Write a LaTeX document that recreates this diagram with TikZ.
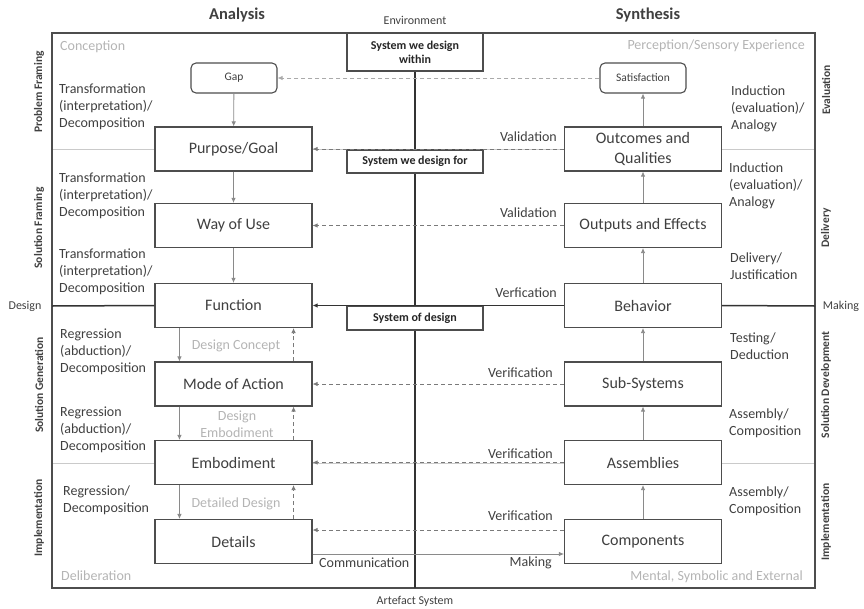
\documentclass[tikz,border=0pt]{standalone}
\usepackage{fontspec}
\setmainfont{Carlito}
\usetikzlibrary{arrows.meta,backgrounds}
\definecolor{ink}{HTML}{404040}
\definecolor{edgegray}{HTML}{4D4D4D}
\definecolor{faint}{HTML}{B4B4B4}
\definecolor{rulegray}{HTML}{CACACA}
\definecolor{dashgray}{HTML}{7A7A7A}
\definecolor{lightdash}{HTML}{AAAAAA}
\definecolor{flowgray}{HTML}{8A8A8A}

\tikzset{
  stage/.style={draw=edgegray, line width=1.1pt, minimum width=157pt, minimum height=44pt,
    inner sep=0pt, align=center, text=ink, fill=white, font=\fontsize{16}{20}\selectfont},
  endbox/.style={draw=edgegray, line width=1.1pt, rounded corners=5pt, minimum width=86pt,
    minimum height=30pt, inner sep=0pt, text=ink, fill=white, font=\fontsize{11.5}{14}\selectfont},
  sysbox/.style={draw=edgegray, line width=1.1pt, minimum width=136pt, inner sep=0pt,
    align=center, text=black!85, fill=white, font=\bfseries\fontsize{12}{14}\selectfont},
  proc/.style={align=left, text=ink, inner sep=0pt, font=\fontsize{14}{17}\selectfont},
  lbl/.style={text=ink, inner sep=0pt, font=\fontsize{14}{17}\selectfont},
  corner/.style={text=faint, inner sep=0pt, font=\fontsize{14}{17}\selectfont},
  midlbl/.style={text=faint, inner sep=0pt, align=center, font=\fontsize{14}{17}\selectfont},
  phase/.style={rotate=90, text=ink, inner sep=0pt, font=\bfseries\fontsize{11.5}{14}\selectfont},
  heading/.style={text=ink, inner sep=0pt, font=\bfseries\fontsize{16.5}{19}\selectfont},
  edgelbl/.style={text=ink, inner sep=0pt, font=\fontsize{12}{14}\selectfont},
  tip/.style={-{Latex[length=5pt,width=4.5pt]}},
  flow/.style={tip, draw=flowgray, line width=0.8pt},
  back/.style={tip, draw=dashgray, line width=0.8pt, dash pattern=on 4pt off 3pt},
  faintback/.style={-{Latex[length=5pt,width=4.5pt]}, draw=lightdash, line width=0.8pt, dash pattern=on 4pt off 3pt},
  mainline/.style={draw=black!80, line width=1.5pt},
}

\begin{document}
\begin{tikzpicture}[x=1pt, y=-1pt]
\useasboundingbox (0,0) rectangle (864,608);

% headings and outer labels
\node[heading] (analysis) at (237,15) {Analysis};
\node[heading] (synthesis) at (648,15) {Synthesis};
\node[edgelbl] (env) at (415,20) {Environment};
\node[edgelbl] (artefact) at (415,601) {Artefact System};
\node[edgelbl] (designlbl) at (25,306) {Design};
\node[edgelbl] (makinglbl) at (841,306) {Making};

% phases, left and right
\node[phase] (pf) at (39,92) {Problem Framing};
\node[phase] (sf) at (39,228) {Solution Framing};
\node[phase] (sg) at (39,385) {Solution Generation};
\node[phase] (impl) at (39,518) {Implementation};
\node[phase] (ev) at (826,90) {Evaluation};
\node[phase] (dl) at (826,228) {Delivery};
\node[phase] (sd) at (826,385) {Solution Development};
\node[phase] (impr) at (826,522) {Implementation};

% corner labels
\node[corner, anchor=west] (conc) at (60,47) {Conception};
\node[corner, anchor=east] (perc) at (805,46) {Perception/Sensory Experience};
\node[corner, anchor=west] (delib) at (61,576) {Deliberation};
\node[corner, anchor=east] (msx) at (803,577) {Mental, Symbolic and External};

% analysis column
\node[endbox] (gap) at (234,78) {Gap};
\node[stage] (purpose) at (233.5,149) {Purpose/Goal};
\node[stage] (way) at (233.5,225.5) {Way of Use};
\node[stage] (function) at (233.5,305.5) {Function};
\node[stage] (mode) at (233.5,384) {Mode of Action};
\node[stage] (embod) at (233.5,462.5) {Embodiment};
\node[stage] (details) at (233.5,541.5) {Details};

% synthesis column
\node[endbox] (satis) at (643,78) {Satisfaction};
\node[stage] (outcomes) at (643,149) {Outcomes and\\Qualities};
\node[stage] (outputs) at (643,225.5) {Outputs and Effects};
\node[stage] (behavior) at (643,305.5) {Behavior};
\node[stage] (subsys) at (643,384) {Sub-Systems};
\node[stage] (assem) at (643,462.5) {Assemblies};
\node[stage] (comps) at (643,541.5) {Components};

% system boxes on the centre axis
\node[sysbox, minimum height=38pt] (within) at (415,52) {System we design\\within};
\node[sysbox, minimum height=23pt] (for) at (415,161.5) {System we design for};
\node[sysbox, minimum height=24pt] (ofdesign) at (415,318) {System of design};

% frame corners and line ends
\coordinate (fNW) at (52,33);
\coordinate (fSE) at (815,588);
\coordinate (axisEnd) at (415,588);
\coordinate (designEnd) at (52,306);
\coordinate (makingEnd) at (815,306);
\coordinate (sepA1) at (52,149);
\coordinate (sepA2) at (815,149);
\coordinate (sepB1) at (52,463);
\coordinate (sepB2) at (815,463);

\begin{scope}[on background layer]
  \draw[rulegray, line width=0.8pt] (sepA1) -- (sepA2);
  \draw[rulegray, line width=0.8pt] (sepB1) -- (sepB2);
  \draw[edgegray, line width=1.2pt] (fNW) rectangle (fSE);
  \draw[black!80, line width=2.5pt] (within.south) -- (axisEnd);
\end{scope}

% design / making axis
\draw[mainline] (designEnd) -- (function.west);
\draw[mainline, tip] (behavior.west) -- (function.east);
\draw[mainline] (behavior.east) -- (makingEnd);

% analysis flow
\draw[flow] (gap) -- (purpose);
\draw[flow] (purpose) -- (way);
\draw[flow] (way) -- (function);
\draw[flow] ([xshift=25pt]function.south west) -- ([xshift=25pt]mode.north west);
\draw[flow] ([xshift=25pt]mode.south west) -- ([xshift=25pt]embod.north west);
\draw[flow] ([xshift=25pt]embod.south west) -- ([xshift=25pt]details.north west);
\draw[back] ([xshift=-19pt]mode.north east) -- ([xshift=-19pt]function.south east);
\draw[back] ([xshift=-19pt]embod.north east) -- ([xshift=-19pt]mode.south east);
\draw[back] ([xshift=-19pt]details.north east) -- ([xshift=-19pt]embod.south east);

% synthesis flow
\draw[flow] (comps) -- (assem);
\draw[flow] (assem) -- (subsys);
\draw[flow] (subsys) -- (behavior);
\draw[flow] (behavior) -- (outputs);
\draw[flow] (outputs) -- (outcomes);
\draw[flow] (outcomes) -- (satis);

% feedback from synthesis to analysis
\draw[faintback] (satis) -- (gap);
\draw[back] (outcomes) -- (purpose);
\draw[back] (outputs) -- (way);
\draw[back] (subsys) -- (mode);
\draw[back] (assem) -- (embod);
\draw[back] ([yshift=11.5pt]comps.west) -- ([yshift=11.5pt]details.east);
\draw[flow] ([yshift=-12.5pt]details.east) -- ([yshift=-12.5pt]comps.west);

% feedback labels
\node[lbl, anchor=east] (v1) at (557,137) {Validation};
\node[lbl, anchor=east] (v2) at (557,213) {Validation};
\node[lbl, anchor=east] (v3) at (557,293) {Verfication};
\node[lbl, anchor=east] (v4) at (553,373) {Verification};
\node[lbl, anchor=east] (v5) at (553,454) {Verification};
\node[lbl, anchor=east] (v6) at (553,516) {Verification};
\node[lbl, anchor=west] (comm) at (319,563) {Communication};
\node[lbl, anchor=east] (mk) at (552,563) {Making};

% analysis process labels
\node[proc, anchor=west] (p1) at (59,107) {Transformation\\(interpretation)/\\Decomposition};
\node[proc, anchor=west] (p2) at (59,196) {Transformation\\(interpretation)/\\Decomposition};
\node[proc, anchor=west] (p3) at (59,272) {Transformation\\(interpretation)/\\Decomposition};
\node[proc, anchor=west] (p4) at (60,352) {Regression\\(abduction)/\\Decomposition};
\node[proc, anchor=west] (p5) at (60,430) {Regression\\(abduction)/\\Decomposition};
\node[proc, anchor=west] (p6) at (63,500.5) {Regression/\\Decomposition};

% synthesis process labels
\node[proc, anchor=west] (s1) at (731,109) {Induction\\(evaluation)/\\Analogy};
\node[proc, anchor=west] (s2) at (729,186) {Induction\\(evaluation)/\\Analogy};
\node[proc, anchor=west] (s3) at (730,266.5) {Delivery/\\Justification};
\node[proc, anchor=west] (s4) at (730,346.5) {Testing/\\Deduction};
\node[proc, anchor=west] (s5) at (729,423.5) {Assembly/\\Composition};
\node[proc, anchor=west] (s6) at (729,501.5) {Assembly/\\Composition};

% design stages between analysis boxes
\node[midlbl] (dc) at (236,346) {Design Concept};
\node[midlbl] (de) at (237,424.5) {Design\\Embodiment};
\node[midlbl] (dd) at (236,504) {Detailed Design};
\end{tikzpicture}
\end{document}
